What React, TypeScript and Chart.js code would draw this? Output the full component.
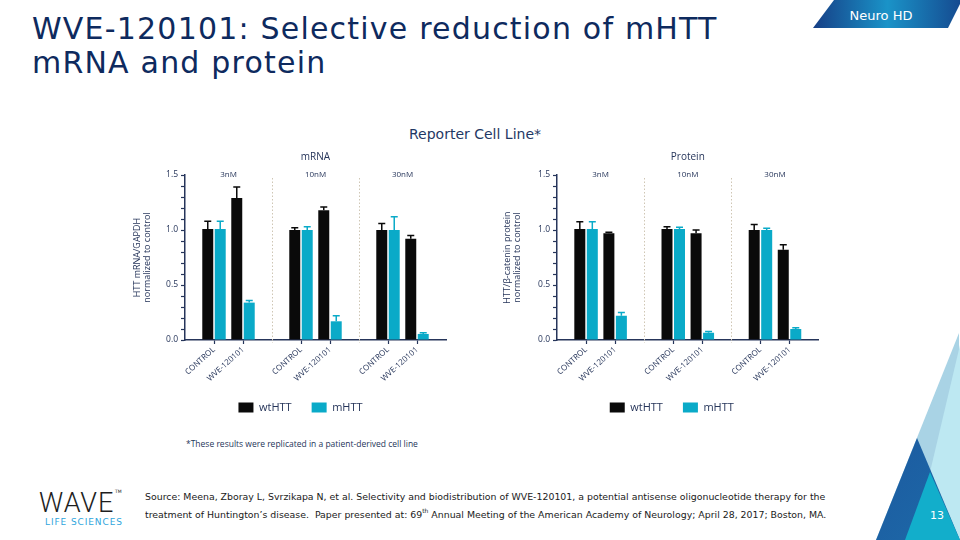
import React, { useEffect, useRef } from 'react';
import { Chart, registerables } from 'chart.js';

Chart.register(...registerables);

// ---------- data ----------
const groupCategories = ['CONTROL', 'WVE-120101'];
const doseLabels = ['3nM', '10nM', '30nM'];
const seriesNames = ['wtHTT', 'mHTT'];

// order: 3nM CONTROL, 3nM WVE, 10nM CONTROL, 10nM WVE, 30nM CONTROL, 30nM WVE
const mrnaWt = [1.01, 1.29, 1.0, 1.18, 1.0, 0.92];
const mrnaWtErr = [0.07, 0.1, 0.02, 0.03, 0.06, 0.03];
const mrnaMut = [1.01, 0.34, 1.0, 0.17, 1.0, 0.055];
const mrnaMutErr = [0.07, 0.02, 0.03, 0.05, 0.12, 0.012];

const protWt = [1.01, 0.97, 1.01, 0.97, 1.0, 0.82];
const protWtErr = [0.065, 0.01, 0.02, 0.03, 0.05, 0.045];
const protMut = [1.01, 0.22, 1.01, 0.065, 1.0, 0.1];
const protMutErr = [0.065, 0.03, 0.015, 0.012, 0.015, 0.012];

const yMin = 0;
const yMax = 1.5;
const yMinorStep = 0.1;
const yMajorStep = 0.5;

// ---------- style ----------
const NAVY = '#26355a';
const BLACK = '#0a0a0a';
const CYAN = '#0aaac8';
const CHART_FONT = '"Open Sans", "DejaVu Sans", sans-serif';
const SLIDE_FONT = '"DejaVu Sans", Verdana, sans-serif';

// layout: CONTROL / WVE pairs separated by empty spacer slots
function buildLabels(): string[] {
  const out: string[] = [''];
  doseLabels.forEach(() => {
    out.push(...groupCategories);
    out.push('');
  });
  return out;
}
function pad(vals: number[]): (number | null)[] {
  const out: (number | null)[] = [null];
  for (let g = 0; g < doseLabels.length; g++) {
    out.push(vals[g * 2], vals[g * 2 + 1]);
    out.push(null);
  }
  return out;
}

const decorPlugin = {
  id: 'decor',
  afterLayout(chart: any, _args: any, opts: any) {
    const lg = chart.legend;
    if (lg && opts.legendDx) {
      lg.left += opts.legendDx;
      lg.right += opts.legendDx;
    }
  },
  afterDatasetsDraw(chart: any) {
    const { ctx, chartArea, scales } = chart;
    const xs = scales.x;
    const ys = scales.y;
    const per = groupCategories.length + 1;
    ctx.save();
    // dotted separators between dose groups
    ctx.strokeStyle = '#cfc6b4';
    ctx.lineWidth = 1;
    ctx.setLineDash([1.5, 2]);
    for (let g = 1; g < doseLabels.length; g++) {
      const x = Math.round(xs.getPixelForValue(g * per)) + 0.5;
      ctx.beginPath();
      ctx.moveTo(x, chartArea.top + 3);
      ctx.lineTo(x, chartArea.bottom + 3);
      ctx.stroke();
    }
    ctx.setLineDash([]);
    // dose labels
    ctx.fillStyle = NAVY;
    ctx.font = `8px ${CHART_FONT}`;
    ctx.textAlign = 'center';
    ctx.textBaseline = 'middle';
    doseLabels.forEach((lab, g) => {
      const x = xs.getPixelForValue(g * per + 1.5);
      ctx.fillText(lab, x, chartArea.top);
    });
    // error bars (upper only)
    chart.data.datasets.forEach((ds: any, di: number) => {
      const meta = chart.getDatasetMeta(di);
      ctx.strokeStyle = ds.errColor;
      ctx.lineWidth = 1.5;
      meta.data.forEach((el: any, i: number) => {
        const v = ds.data[i];
        const e = ds.errors[i];
        if (v == null || e == null) return;
        const x = el.x;
        const y0 = ys.getPixelForValue(v);
        const y1 = ys.getPixelForValue(v + e);
        ctx.beginPath();
        ctx.moveTo(x, y0);
        ctx.lineTo(x, y1);
        ctx.moveTo(x - 3.5, y1);
        ctx.lineTo(x + 3.5, y1);
        ctx.stroke();
      });
    });
    ctx.restore();
  },
};

type PanelProps = {
  left: number;
  top: number;
  width: number;
  height: number;
  chartLeft: number;
  chartRight: number;
  title: string;
  yTitle: string[];
  wt: number[];
  wtErr: number[];
  mut: number[];
  mutErr: number[];
  legendDx: number;
};

function BarPanel(p: PanelProps) {
  const ref = useRef<HTMLCanvasElement>(null);
  useEffect(() => {
    const labels = buildLabels();
    const chart = new Chart(ref.current as HTMLCanvasElement, {
      type: 'bar',
      data: {
        labels,
        datasets: [
          {
            label: seriesNames[0],
            data: pad(p.wt),
            errors: pad(p.wtErr),
            errColor: BLACK,
            backgroundColor: BLACK,
            borderWidth: 0,
          } as any,
          {
            label: seriesNames[1],
            data: pad(p.mut),
            errors: pad(p.mutErr),
            errColor: CYAN,
            backgroundColor: CYAN,
            borderWidth: 0,
          } as any,
        ],
      },
      options: {
        responsive: false,
        animation: false,
        layout: { padding: { left: 0, right: p.left + p.width - p.chartRight, top: 0, bottom: 0 } },
        datasets: { bar: { categoryPercentage: 0.86, barPercentage: 0.88 } },
        plugins: {
          tooltip: { enabled: false },
          title: {
            display: true,
            text: p.title,
            fullSize: false,
            color: NAVY,
            font: { family: CHART_FONT, size: 10, weight: 'normal' },
            padding: { top: 11.5, bottom: 11.5 },
          },
          legend: {
            position: 'bottom',
            fullSize: false,
            labels: {
              color: NAVY,
              font: { family: CHART_FONT, size: 11 },
              boxWidth: 15,
              boxHeight: 10,
              padding: 20,
            },
          },
          decor: { legendDx: p.legendDx },
        } as any,
        scales: {
          x: {
            type: 'category',
            offset: false,
            grid: {
              offset: false,
              drawOnChartArea: false,
              drawTicks: true,
              tickLength: 4,
              tickWidth: 1.2,
              tickColor: (c: any) => (labels[c.index] ? NAVY : 'rgba(0,0,0,0)'),
            },
            border: { color: NAVY, width: 1.5 },
            ticks: {
              autoSkip: false,
              minRotation: 42,
              maxRotation: 42,
              color: NAVY,
              padding: 1,
              font: { family: CHART_FONT, size: 8 },
            },
            afterFit: (s: any) => {
              s.height = 42;
            },
          },
          y: {
            min: yMin,
            max: yMax,
            grid: {
              drawOnChartArea: false,
              tickLength: 4,
              tickWidth: 1.2,
              tickColor: NAVY,
            },
            border: { color: NAVY, width: 1.5 },
            ticks: {
              stepSize: yMinorStep,
              maxTicksLimit: 20,
              autoSkip: false,
              color: NAVY,
              padding: 3,
              font: { family: CHART_FONT, size: 8.5 },
              callback: (v: any) => {
                const r = v / yMajorStep;
                return Math.abs(r - Math.round(r)) < 1e-6 ? Number(v).toFixed(1) : '';
              },
            },
            title: {
              display: true,
              text: p.yTitle,
              color: NAVY,
              font: { family: CHART_FONT, size: 9, lineHeight: 1.15 },
              padding: { top: 6, bottom: 0 },
            },
            afterFit: (s: any) => {
              s.width = p.chartLeft - p.left;
            },
          },
        },
      } as any,
      plugins: [decorPlugin],
    });
    return () => chart.destroy();
  }, []);
  return (
    <canvas
      ref={ref}
      width={p.width}
      height={p.height}
      style={{ position: 'absolute', left: p.left, top: p.top, width: p.width, height: p.height }}
    />
  );
}

export default function App() {
  return (
    <div
      style={{
        position: 'fixed',
        left: 0,
        top: 0,
        width: 960,
        height: 540,
        background: '#ffffff',
        overflow: 'hidden',
        fontFamily: SLIDE_FONT,
      }}
    >
      {/* decorations */}
      <svg width={960} height={540} style={{ position: 'absolute', left: 0, top: 0 }}>
        <defs>
          <linearGradient id="bannerG" x1="0" y1="0" x2="1" y2="0">
            <stop offset="0" stopColor="#163f86" />
            <stop offset="0.5" stopColor="#1a93c8" />
            <stop offset="1" stopColor="#15498f" />
          </linearGradient>
          <linearGradient id="darkG" x1="0" y1="0" x2="1" y2="1">
            <stop offset="0" stopColor="#1c5aa0" />
            <stop offset="1" stopColor="#1d6aa8" />
          </linearGradient>
        </defs>
        <polygon points="834,0 962,0 948,28 813,28" fill="url(#bannerG)" />
        <polygon points="959,333 876,540 960,540" fill="#a9d3e5" />
        <polygon points="960,345 914,540 960,540" fill="#bde8f2" />
        <polygon points="917,438 876,540 960,540" fill="url(#darkG)" />
        <polygon points="930,472 905,540 960,540" fill="#12aecb" />
        <text x={881} y={20} fill="#ffffff" fontSize={13} textAnchor="middle" fontFamily={SLIDE_FONT}>
          Neuro HD
        </text>
        <text x={937} y={519} fill="#ffffff" fontSize={11} textAnchor="middle" fontFamily={SLIDE_FONT}>
          13
        </text>
        <text
          x={39}
          y={512}
          fill="#1e1e1e"
          fontSize={27}
          fontWeight={300}
          letterSpacing={1}
          fontFamily='Roboto, "DejaVu Sans", sans-serif'
        >
          WAVE
        </text>
        <text x={115} y={493} fill="#222222" fontSize={4.5} fontFamily={SLIDE_FONT}>
          TM
        </text>
        <text x={45} y={525} fill="#2fa5dc" fontSize={9} letterSpacing={0.9} fontFamily={SLIDE_FONT}>
          LIFE SCIENCES
        </text>
      </svg>

      <div
        style={{
          position: 'absolute',
          left: 32,
          top: 12,
          fontSize: 30,
          letterSpacing: 1.2,
          lineHeight: '34px',
          color: '#0e2a5e',
          whiteSpace: 'nowrap',
        }}
      >
        WVE-120101: Selective reduction of mHTT
        <br />
        mRNA and protein
      </div>

      <div
        style={{
          position: 'absolute',
          left: 0,
          width: 950,
          top: 126,
          textAlign: 'center',
          fontSize: 14,
          color: '#1f3864',
        }}
      >
        Reporter Cell Line*
      </div>

      <BarPanel
        left={126}
        top={140}
        width={330}
        height={283}
        chartLeft={185}
        chartRight={446}
        title="mRNA"
        yTitle={['HTT mRNA/GAPDH', 'normalized to control']}
        wt={mrnaWt}
        wtErr={mrnaWtErr}
        mut={mrnaMut}
        mutErr={mrnaMutErr}
        legendDx={-15}
      />
      <BarPanel
        left={496}
        top={140}
        width={330}
        height={283}
        chartLeft={557}
        chartRight={819}
        title="Protein"
        yTitle={['HTT/β-catenin protein', 'normalized to control']}
        wt={protWt}
        wtErr={protWtErr}
        mut={protMut}
        mutErr={protMutErr}
        legendDx={-16}
      />

      <div
        style={{
          position: 'absolute',
          left: 186,
          top: 438,
          fontSize: 8.5,
          fontFamily: CHART_FONT,
          color: NAVY,
          whiteSpace: 'nowrap',
        }}
      >
        *These results were replicated in a patient-derived cell line
      </div>

      <div
        style={{
          position: 'absolute',
          left: 145,
          top: 488,
          fontSize: 9.4,
          lineHeight: '18px',
          color: '#1a1a1a',
          whiteSpace: 'nowrap',
        }}
      >
        Source: Meena, Zboray L, Svrzikapa N, et al. Selectivity and biodistribution of WVE-120101, a potential antisense
        oligonucleotide therapy for the
        <br />
        treatment of Huntington’s disease.&nbsp; Paper presented at: 69
        <sup style={{ fontSize: 6, verticalAlign: 'top', lineHeight: '10px' }}>th</sup> Annual Meeting of the American
        Academy of Neurology; April 28, 2017; Boston, MA.
      </div>
    </div>
  );
}
